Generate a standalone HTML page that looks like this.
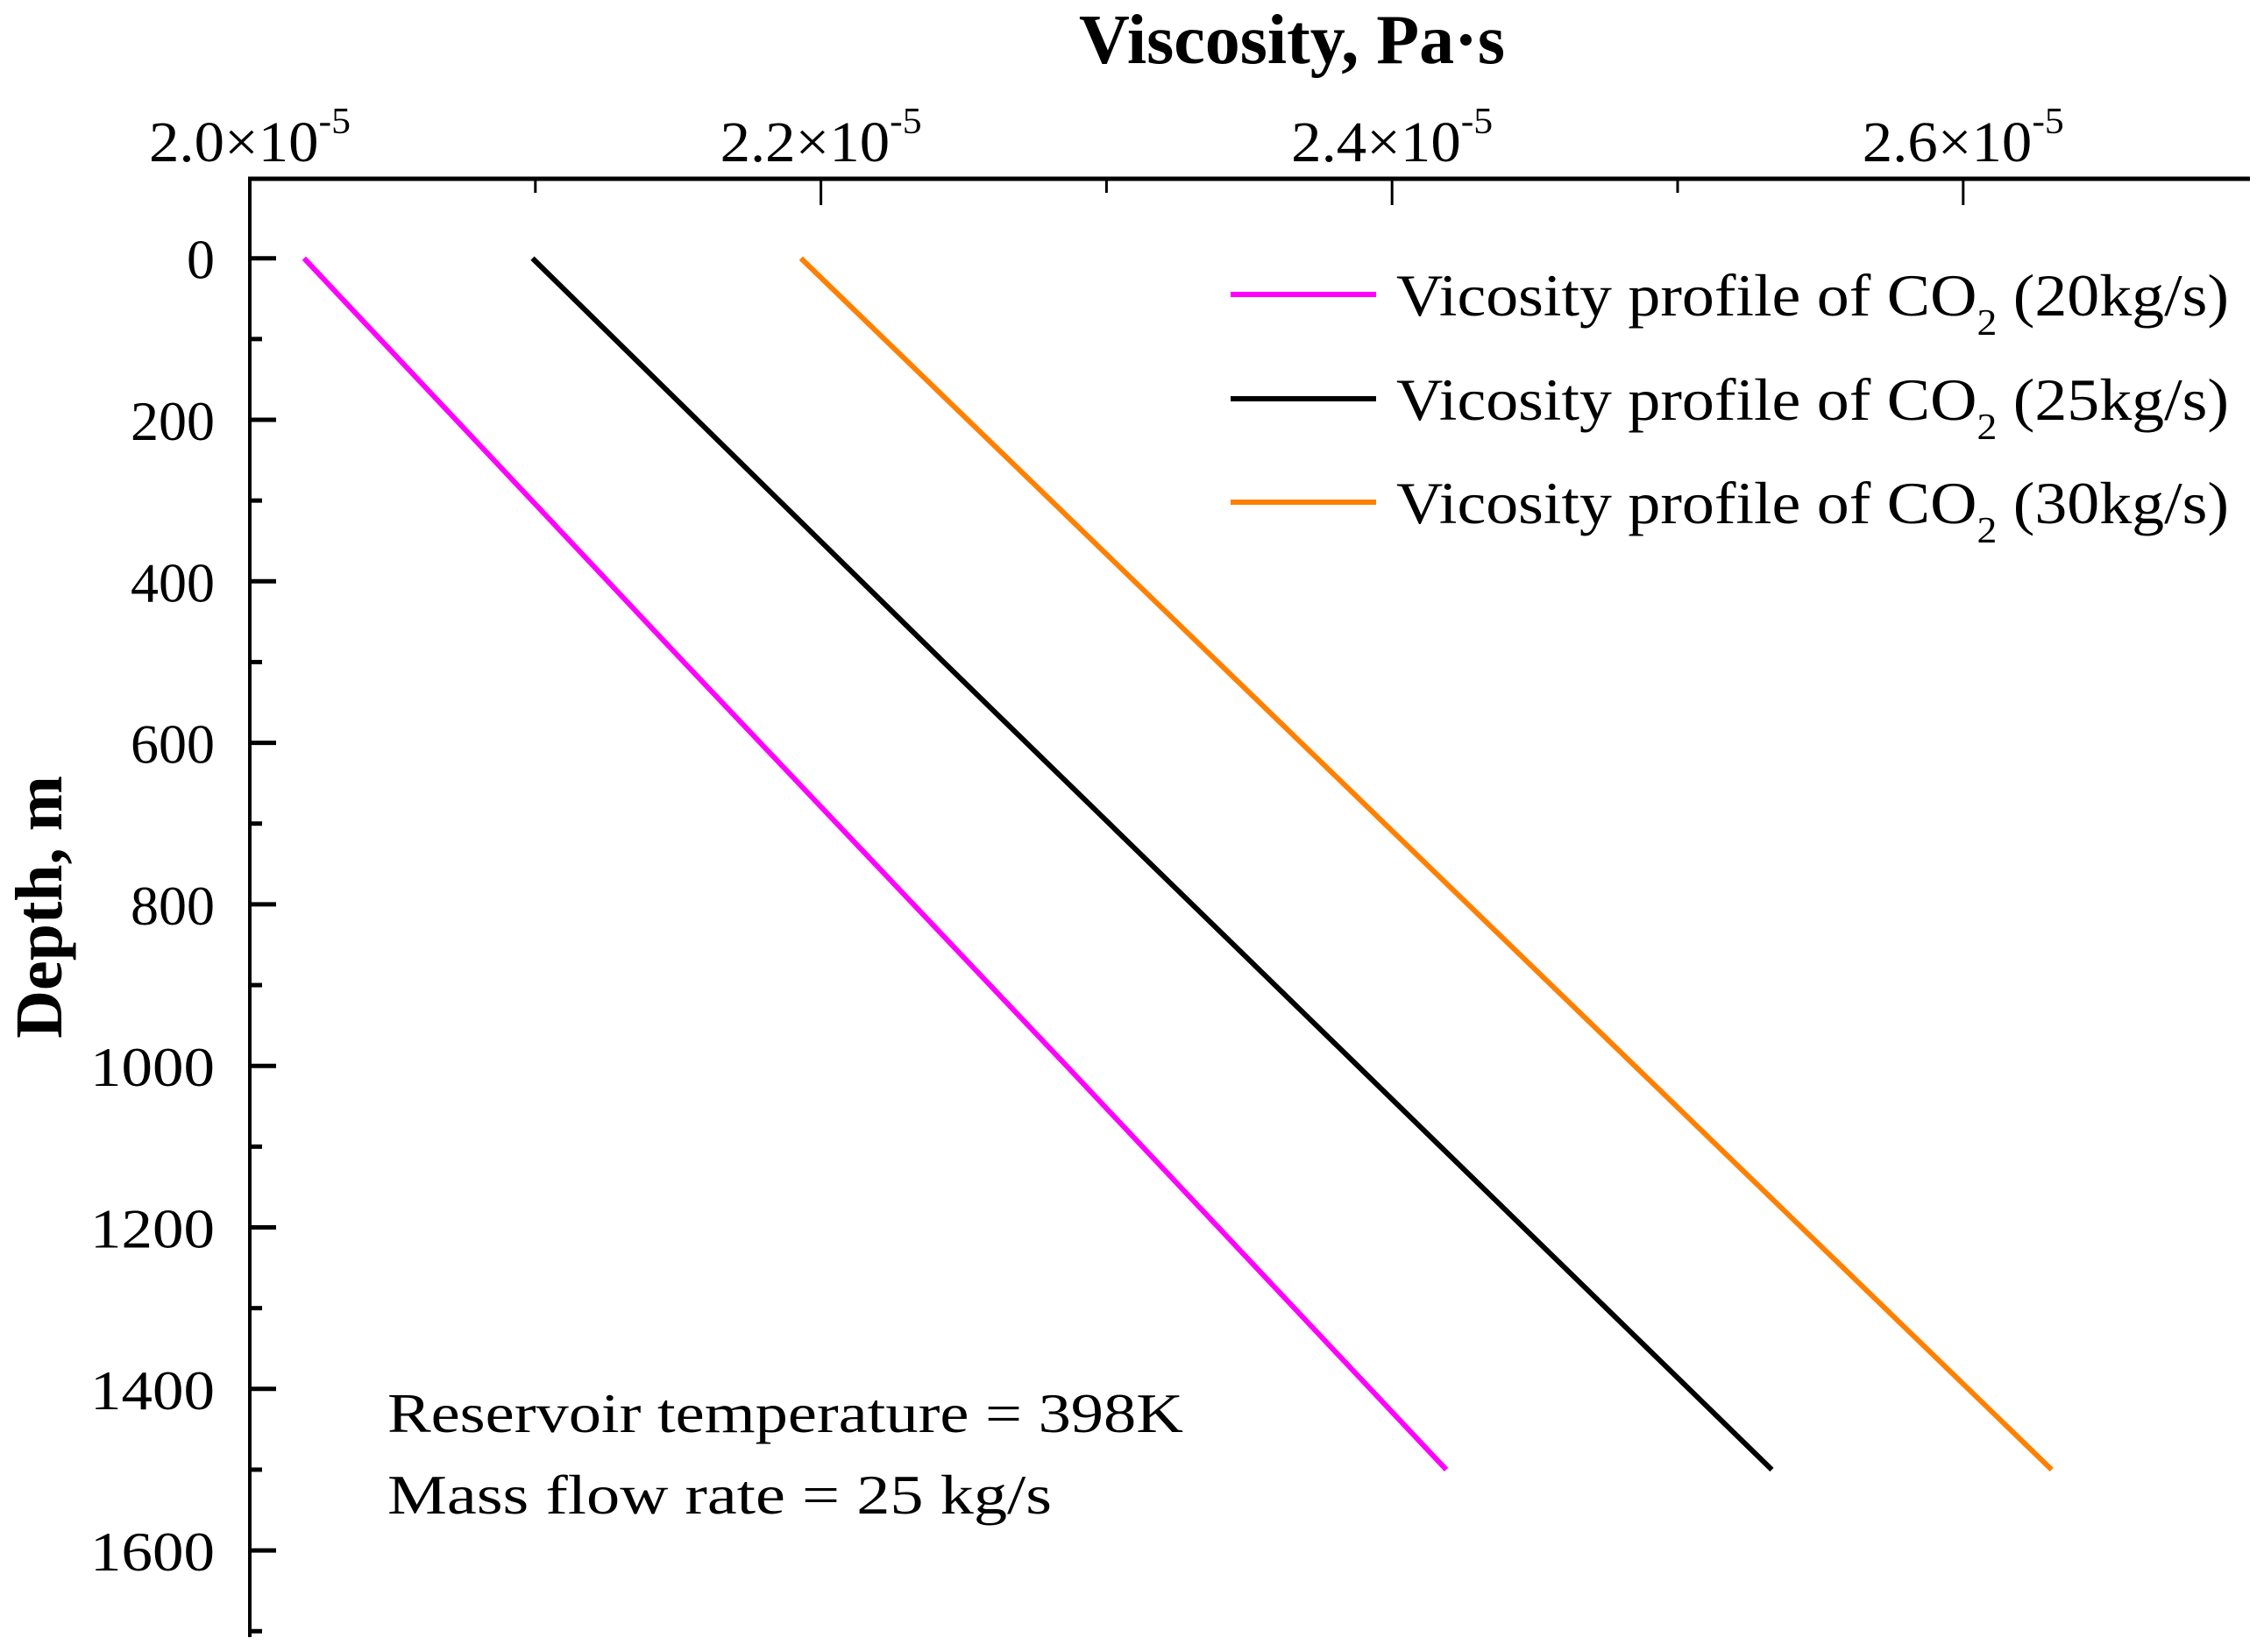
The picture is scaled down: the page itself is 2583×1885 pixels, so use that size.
<!DOCTYPE html>
<html><head><meta charset="utf-8"><style>
html,body{margin:0;padding:0;background:#fff;}
svg{display:block;font-family:"Liberation Serif",serif;}
</style></head><body>
<svg id="chart" width="2583" height="1885" viewBox="0 0 2583 1885" xmlns="http://www.w3.org/2000/svg">
<text x="1474" y="72" font-size="80" font-weight="bold" text-anchor="middle">Viscosity, Pa·s</text>
<text transform="translate(70,1035) rotate(-90)" font-size="76" font-weight="bold" text-anchor="middle">Depth, m</text>
<g id="axes"></g>
<g id="series"></g>
<g id="legend"></g>
<text x="442" y="1634" font-size="64" textLength="908" lengthAdjust="spacingAndGlyphs">Reservoir temperature = 398K</text>
<text x="442" y="1727" font-size="64" textLength="758" lengthAdjust="spacingAndGlyphs">Mass flow rate  = 25 kg/s</text>
</svg>
<script>
const depths = [0, 500, 1000, 1500];
const visc20 = [2.019, 2.152, 2.286, 2.419];
const visc25 = [2.099, 2.243, 2.388, 2.533];
const visc30 = [2.193, 2.339, 2.485, 2.631];
const xTicks = [2.0, 2.2, 2.4, 2.6];
const xMinor = [2.1, 2.3, 2.5];
const yTicks = [0, 200, 400, 600, 800, 1000, 1200, 1400, 1600];
const yMinor = [100, 300, 500, 700, 900, 1100, 1300, 1500, 1700];
const seriesNames = ["20kg/s", "25kg/s", "30kg/s"];

const NS = "http://www.w3.org/2000/svg";
const X0 = 285, XPER = 651.6 / 0.2, Y0 = 294.7, YPER = 184.3 / 200;
function xs(v){ return X0 + (v - 2.0) * XPER; }
function ys(d){ return Y0 + d * YPER; }
function mk(tag, attrs, parent){ const e = document.createElementNS(NS, tag); for (const k in attrs) e.setAttribute(k, attrs[k]); parent.appendChild(e); return e; }

const axesG = document.getElementById('axes');
const topAxis = mk('line', {x1: X0-2, y1: 204, x2: 2567, y2: 204, stroke: '#000', 'stroke-width': 5}, axesG);


const leftAxis = mk('line', {x1: X0, y1: 202, x2: X0, y2: 1868, stroke: '#000', 'stroke-width': 4}, axesG);



xTicks.forEach(v => {
  const x = xs(v);
  const t = mk('line', {x1: x, y1: 204, x2: x, y2: 234, stroke: '#000', 'stroke-width': 3}, axesG);
  
  
  const lab = mk('text', {x: x - 115, y: 184, 'font-size': 66, textLength: 230, lengthAdjust: 'spacingAndGlyphs'}, axesG);
  
  
  lab.textContent = v.toFixed(1) + '×10';
  const sup = mk('tspan', {'font-size': 42, dy: -32}, lab);
  sup.textContent = '-5';
});
xMinor.forEach(v => {
  const x = xs(v);
  const t = mk('line', {x1: x, y1: 204, x2: x, y2: 220, stroke: '#000', 'stroke-width': 3}, axesG);
  
  
});
yTicks.forEach(d => {
  const y = ys(d);
  const t = mk('line', {x1: X0, y1: y, x2: X0 + 30, y2: y, stroke: '#000', 'stroke-width': 5}, axesG);
  
  
  const lab = mk('text', {x: 245, y: y + 23, 'font-size': 64, 'text-anchor': 'end'}, axesG);
  if (String(d).length >= 4) { lab.setAttribute('textLength', 142); lab.setAttribute('lengthAdjust', 'spacingAndGlyphs'); }
  
  
  lab.textContent = d;
});
yMinor.forEach(d => {
  const y = ys(d);
  const t = mk('line', {x1: X0, y1: y, x2: X0 + 14, y2: y, stroke: '#000', 'stroke-width': 5}, axesG);
  
  
});

const seriesG = document.getElementById('series');
const allVals = [visc20, visc25, visc30];
const colors = ['#ff00ff', '#000000', '#ff8000'];
allVals.forEach((vals, i) => {
  const pts = vals.map((v, j) => xs(v).toFixed(1) + ',' + ys(depths[j]).toFixed(1)).join(' ');
  const p = mk('polyline', {points: pts, fill: 'none', stroke: colors[i], 'stroke-width': 6}, seriesG);
  
  
});

const legendG = document.getElementById('legend');
const ly = [336, 455, 573];
seriesNames.forEach((n, i) => {
  const l = mk('line', {x1: 1404, y1: ly[i], x2: 1570, y2: ly[i], stroke: colors[i], 'stroke-width': 6}, legendG);
  
  
  const t = mk('text', {x: 1593, y: ly[i] + 24, 'font-size': 68}, legendG);
  
  
  const a = mk('tspan', {}, t); a.textContent = 'Vicosity profile of CO';
  const s = mk('tspan', {'font-size': 42, dy: 22}, t); s.textContent = '2';
  const b = mk('tspan', {dy: -22}, t); b.textContent = ' (' + n + ')';
  t.setAttribute('textLength', 950);
  t.setAttribute('lengthAdjust', 'spacingAndGlyphs');
});
</script>
</body></html>
